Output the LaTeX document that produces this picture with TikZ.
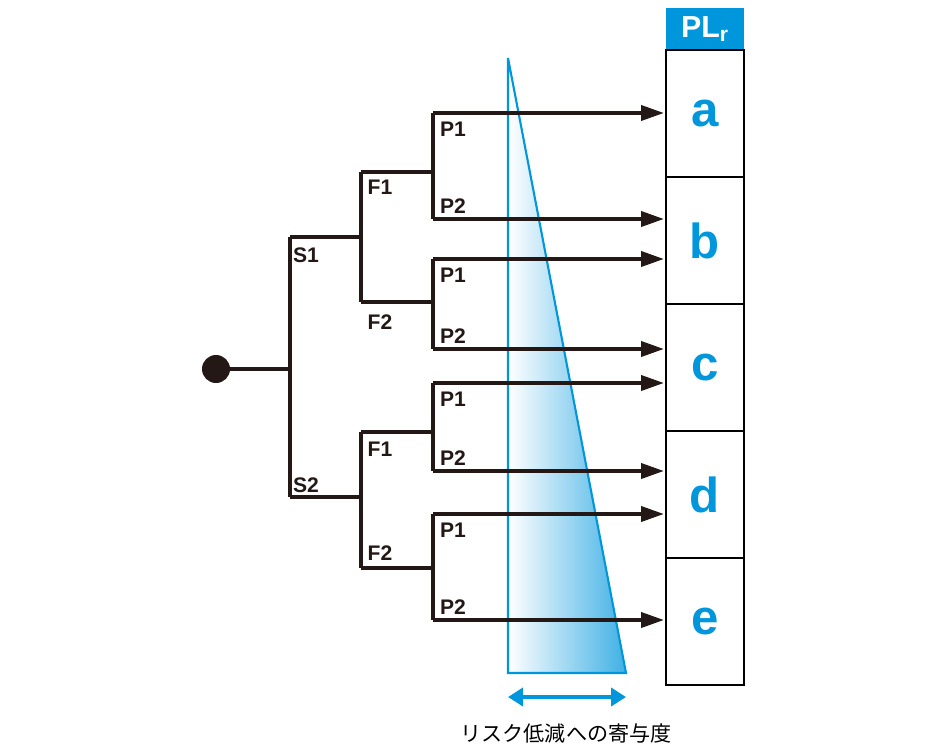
\documentclass[tikz,border=0pt]{standalone}
\usepackage{fontspec}
\setmainfont{Liberation Sans}
\newfontfamily\jpfont{Noto Sans CJK JP}
\usetikzlibrary{arrows.meta}
\definecolor{plblue}{RGB}{0,150,220}
\definecolor{treeblack}{RGB}{35,24,21}
\tikzset{
  branch/.style={line width=2.2pt, draw=treeblack},
  outarrow/.style={branch, -{Triangle[length=0.46cm,width=0.3cm]}},
  lbl/.style={font=\bfseries\large, text=treeblack},
  cell/.style={draw, line width=0.8pt},
  letter/.style={font=\bfseries\fontsize{28}{32}\selectfont, text=plblue}
}
\begin{document}
\begin{tikzpicture}[x=0.02cm,y=-0.02cm]
\useasboundingbox (0,0) rectangle (950,750);
%Triangle
\shade[left color=white, right color=plblue!75] (508,58) -- (508,673) -- (626,673) -- cycle;
\draw[plblue, line width=1.2pt] (508,58) -- (508,673) -- (626,673) -- cycle;
\coordinate (wL) at (508,697);
\coordinate (wR) at (626,697);
\draw[plblue, line width=2.5pt, {Triangle[length=0.3cm,width=0.36cm]}-{Triangle[length=0.3cm,width=0.36cm]}] (wL) -- (wR);
\node[font=\jpfont\large] (wlabel) at (566,733) {リスク低減への寄与度};

%Table
\node[fill=plblue, minimum width=1.56cm, minimum height=0.84cm, text=white, font=\bfseries\LARGE] (head) at (705,29) {PL$_{\mathbf r}$};
\foreach \t [count=\i] in {a,b,c,d,e}{
  \draw[cell] (666,{50+127*(\i-1)}) rectangle node[letter] (row\t) {\t} (744,{50+127*\i});
}

%Tree
\coordinate (root) at (216,369);
\coordinate (s) at (290,369);
\coordinate (s1) at (290,237);
\coordinate (s2) at (290,497);
\draw[branch] (root) -- (s);
\fill[treeblack] (root) circle (14);
\draw[branch] (s1) -- (s2);
\node[lbl] at (306,255) {S1};
\node[lbl] at (306,485) {S2};
\foreach \sy/\fa/\fb/\oa/\ob/\pa/\pb/\pc/\pd in {237/172/302/15/20/113/219/259/349,497/432/568/17/-15/383/471/514/620}{
  \draw[branch] (290,\sy) -- (361,\sy);
  \draw[branch] (361,\fa) -- (361,\fb);
  \draw[branch] (361,\fa) -- (433,\fa) (361,\fb) -- (433,\fb);
  \node[lbl] at (380,\fa+\oa) {F1};
  \node[lbl] at (380,\fb+\ob) {F2};
  \draw[branch] (433,\pa) -- (433,\pb) (433,\pc) -- (433,\pd);
  \foreach \py in {\pa,\pc} \node[lbl] at (453,\py+16) {P1};
  \foreach \py in {\pb,\pd} \node[lbl] at (453,\py-13) {P2};
  \foreach \py in {\pa,\pb,\pc,\pd} \draw[outarrow] (433,\py) -- (664,\py);
}
\end{tikzpicture}
\end{document}
